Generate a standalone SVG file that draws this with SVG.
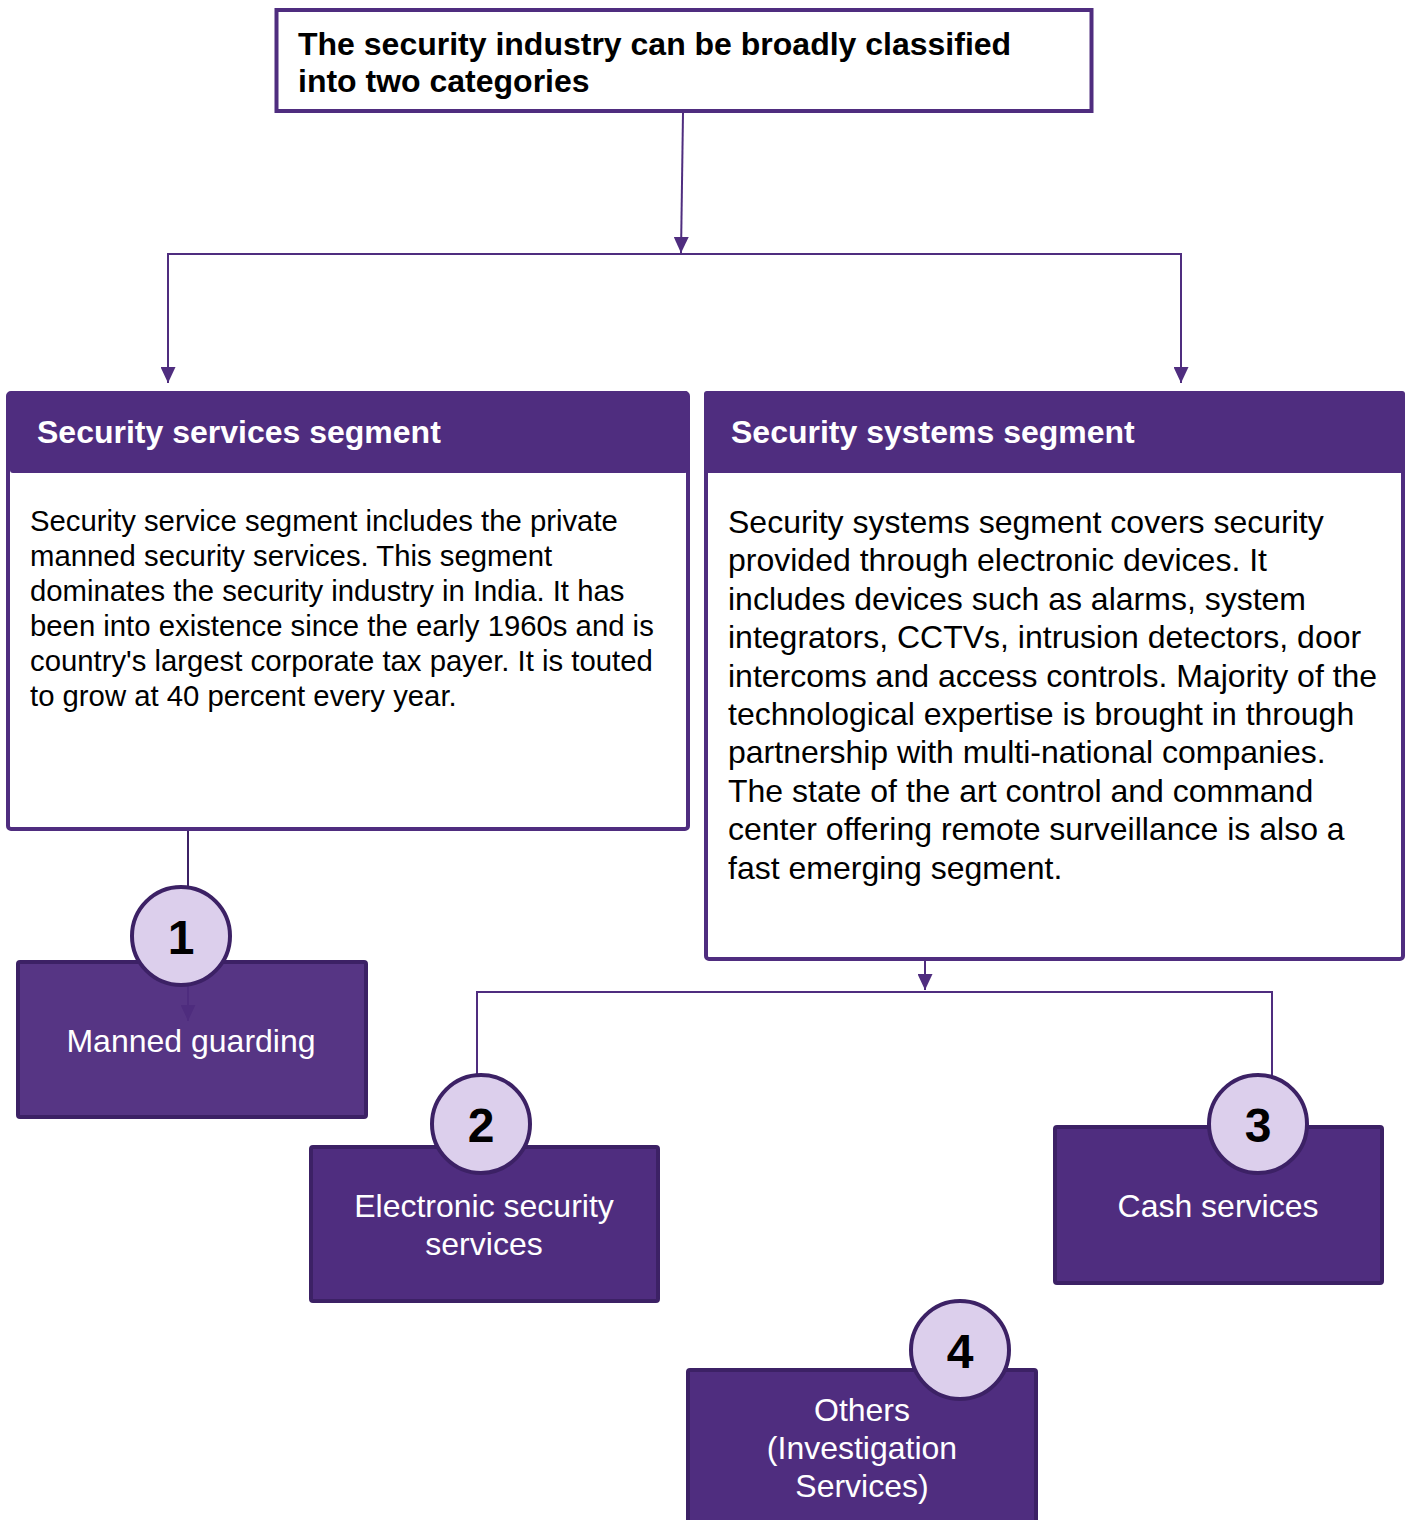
<svg xmlns="http://www.w3.org/2000/svg" width="1407" height="1520" viewBox="0 0 1407 1520">
<defs>
<marker id="arr" markerUnits="userSpaceOnUse" markerWidth="16" markerHeight="15" refX="16" refY="7.5" orient="auto"><path d="M0,0 L16,7.5 L0,15 z" fill="#4F2D7F"/></marker>
<marker id="arrd" markerUnits="userSpaceOnUse" markerWidth="16" markerHeight="15" refX="16" refY="7.5" orient="auto"><path d="M0,0 L16,7.5 L0,15 z" fill="#3C2165"/></marker>
<style>
.conn{fill:none;stroke:#4F2D7F;stroke-width:2}
.seg{fill:#fff;stroke:#4F2D7F;stroke-width:4}
.hdr{fill:#4F2D7F}
.box{fill:#4F2D7F;stroke:#3C2165;stroke-width:4}
.num{fill:#DCCFEC;stroke:#3C2165;stroke-width:4}
.t{font-family:"Liberation Sans",Arial,sans-serif}
.b{font-weight:bold}
.w{fill:#fff}
.k{fill:#000}
.lbl{font-size:32px;fill:#fff;text-anchor:middle}
.n{font-size:48px;font-weight:bold;text-anchor:middle;fill:#000}
</style>
</defs>
<rect width="1407" height="1520" fill="#fff"/>
<g id="connectors">
<path class="conn" d="M683,113 L681,253" marker-end="url(#arr)"/>
<path class="conn" d="M681,254 H168 V383" marker-end="url(#arr)"/>
<path class="conn" d="M681,254 H1181 V383" marker-end="url(#arr)"/>
<path class="conn" d="M188,830 V1021" stroke="#3C2165" style="stroke:#3C2165" marker-end="url(#arrd)"/>
<path class="conn" d="M925,960 V990" marker-end="url(#arr)"/>
<path class="conn" d="M925,992 H477 V1076"/>
<path class="conn" d="M925,992 H1272 V1076"/>
</g>
<g id="top">
<rect x="276.5" y="10" width="815" height="101" fill="#fff" stroke="#4F2D7F" stroke-width="4"/>
<text class="t b k" font-size="32" x="298" y="55">The security industry can be broadly classified</text>
<text class="t b k" font-size="32" x="298" y="92">into two categories</text>
</g>
<g id="services">
<rect class="seg" x="8" y="393" width="680" height="436" rx="3"/>
<rect class="hdr" x="10" y="391" width="678" height="82" rx="3"/>
<text class="t b w" font-size="32" x="37" y="443">Security services segment</text>
<g class="t k" font-size="29.3">
<text x="30" y="531">Security service segment includes the private</text>
<text x="30" y="566">manned security services. This segment</text>
<text x="30" y="601">dominates the security industry in India. It has</text>
<text x="30" y="636">been into existence since the early 1960s and is</text>
<text x="30" y="671">country's largest corporate tax payer. It is touted</text>
<text x="30" y="706">to grow at 40 percent every year.</text>
</g>
</g>
<g id="systems">
<rect class="seg" x="706" y="393" width="697" height="566" rx="3"/>
<rect class="hdr" x="704" y="391" width="701" height="82" rx="3"/>
<text class="t b w" font-size="32" x="731" y="443">Security systems segment</text>
<g class="t k" font-size="32">
<text x="728" y="533">Security systems segment covers security</text>
<text x="728" y="571.4">provided through electronic devices. It</text>
<text x="728" y="609.8">includes devices such as alarms, system</text>
<text x="728" y="648.2">integrators, CCTVs, intrusion detectors, door</text>
<text x="728" y="686.6">intercoms and access controls. Majority of the</text>
<text x="728" y="725">technological expertise is brought in through</text>
<text x="728" y="763.4">partnership with multi-national companies.</text>
<text x="728" y="801.8">The state of the art control and command</text>
<text x="728" y="840.2">center offering remote surveillance is also a</text>
<text x="728" y="878.6">fast emerging segment.</text>
</g>
</g>
<g id="manned">
<rect class="box" x="18" y="962" width="348" height="155" rx="2" fill-opacity="0.96" style="fill-opacity:0.96"/>
<text class="t lbl" x="191" y="1052">Manned guarding</text>
<circle class="num" cx="181" cy="936" r="49"/>
<text class="t n" x="181" y="954">1</text>
</g>
<g id="electronic">
<rect class="box" x="311" y="1147" width="347" height="154" rx="2"/>
<text class="t lbl" x="484" y="1217">Electronic security</text>
<text class="t lbl" x="484" y="1255">services</text>
<circle class="num" cx="481" cy="1124" r="49"/>
<text class="t n" x="481" y="1142">2</text>
</g>
<g id="cash">
<rect class="box" x="1055" y="1127" width="327" height="156" rx="2"/>
<text class="t lbl" x="1218" y="1217">Cash services</text>
<circle class="num" cx="1258" cy="1124" r="49"/>
<text class="t n" x="1258" y="1142">3</text>
</g>
<g id="others">
<rect class="box" x="688" y="1370" width="348" height="170" rx="2"/>
<text class="t lbl" x="862" y="1421">Others</text>
<text class="t lbl" x="862" y="1459">(Investigation</text>
<text class="t lbl" x="862" y="1497">Services)</text>
<circle class="num" cx="960" cy="1350" r="49"/>
<text class="t n" x="960" y="1368">4</text>
</g>
</svg>
